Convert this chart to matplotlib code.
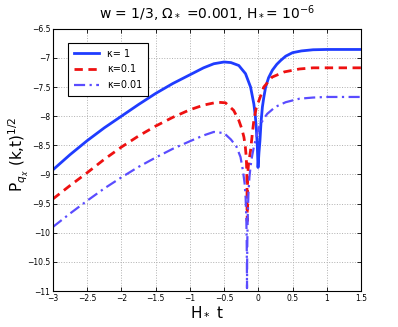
import matplotlib
matplotlib.use("Agg")
import matplotlib.pyplot as plt

# kappa = 1 (solid)
x_k1 = [-3.0, -2.75, -2.5, -2.25, -2.0, -1.75, -1.5, -1.25, -1.0, -0.8, -0.65, -0.5,
        -0.4, -0.285, -0.187, -0.113, -0.065, -0.045, -0.03, -0.015, -0.004,
        0.01, 0.024, 0.04, 0.06, 0.08, 0.107, 0.15, 0.206, 0.27, 0.33, 0.4, 0.5,
        0.63, 0.8, 1.0, 1.5]
y_k1 = [-8.92, -8.66, -8.42, -8.20, -8.00, -7.80, -7.61, -7.44, -7.29, -7.17, -7.10, -7.07,
        -7.08, -7.13, -7.27, -7.50, -7.79, -7.98, -8.19, -8.50, -8.88,
        -8.62, -8.42, -8.10, -7.84, -7.68, -7.50, -7.34, -7.21, -7.11, -7.04, -6.97, -6.91,
        -6.88, -6.86, -6.855, -6.855]

# kappa = 0.1 (dashed)
x_k01 = [-3.0, -2.75, -2.5, -2.25, -2.0, -1.75, -1.5, -1.25, -1.0, -0.8, -0.6, -0.48,
         -0.36, -0.285, -0.24, -0.21, -0.19, -0.176, -0.168, -0.164, -0.162,
         -0.16, -0.155, -0.145, -0.13, -0.113, -0.09, -0.065, -0.03, 0.01, 0.08,
         0.2, 0.38, 0.6, 0.8, 1.0, 1.5]
y_k01 = [-9.42, -9.19, -8.97, -8.74, -8.53, -8.34, -8.17, -8.02, -7.89, -7.81, -7.76, -7.77,
         -7.90, -8.07, -8.22, -8.36, -8.52, -8.70, -8.95, -9.30, -9.80,
         -9.30, -9.00, -8.85, -8.72, -8.59, -8.33, -8.07, -7.86, -7.73, -7.50,
         -7.33, -7.24, -7.19, -7.17, -7.17, -7.17]

# kappa = 0.01 (dash-dot)
x_k001 = [-3.0, -2.75, -2.5, -2.25, -2.0, -1.75, -1.5, -1.25, -1.0, -0.8, -0.65, -0.5,
          -0.4, -0.32, -0.26, -0.225, -0.2, -0.185, -0.175, -0.17, -0.167, -0.165,
          -0.163, -0.16, -0.155, -0.145, -0.13, -0.113, -0.09, -0.065, -0.03, 0.01,
          0.07, 0.13, 0.25, 0.4, 0.6, 0.8, 1.0, 1.5]
y_k001 = [-9.90, -9.67, -9.45, -9.24, -9.05, -8.87, -8.71, -8.56, -8.43, -8.33, -8.27, -8.29,
          -8.40, -8.52, -8.70, -8.93, -9.15, -9.40, -9.75, -10.1, -10.5, -10.95,
          -10.5, -10.1, -9.75, -9.35, -9.05, -8.86, -8.68, -8.53, -8.36, -8.19,
          -8.06, -7.96, -7.84, -7.76, -7.70, -7.68, -7.67, -7.67]

labels = ["κ= 1", "κ=0.1", "κ=0.01"]
xticks = [-3, -2.5, -2, -1.5, -1, -0.5, 0, 0.5, 1, 1.5]
xticklabels = ["−3", "−2.5", "−2", "−1.5", "−1", "−0.5", "0", "0.5", "1", "1.5"]
yticks = [-11, -10.5, -10, -9.5, -9, -8.5, -8, -7.5, -7, -6.5]
yticklabels = ["−11", "−10.5", "−10", "−9.5", "−9", "−8.5", "−8", "−7.5", "−7", "−6.5"]

fig = plt.figure(figsize=(3.98, 3.27), dpi=100)
ax = fig.add_axes([0.133, 0.110, 0.774, 0.802])

ax.plot(x_k1, y_k1, color="#1f3cff", lw=2.0, ls="-", label=labels[0])
ax.plot(x_k01, y_k01, color="#ee1111", lw=2.0, ls=(0, (3, 2)), label=labels[1])
ax.plot(x_k001, y_k001, color="#5a4cff", lw=1.6, ls=(0, (5, 2, 1, 2)), label=labels[2])

ax.set_xlim(-3, 1.5)
ax.set_ylim(-11, -6.5)
ax.set_xticks(xticks)
ax.set_xticklabels(xticklabels)
ax.set_yticks(yticks)
ax.set_yticklabels(yticklabels)
ax.tick_params(direction="in", labelsize=5.5, length=3, width=0.6, top=True, right=True, pad=2)
ax.grid(True, ls=":", color="#b0b0b0", lw=0.7)
for s in ax.spines.values():
    s.set_linewidth(0.8)

ax.set_title("w = 1/3, Ω$_*$ =0.001, H$_*$= 10$^{-6}$", fontsize=10, pad=7)
ax.set_xlabel("H$_*$ t", fontsize=11, labelpad=1)
ax.set_ylabel("P$_{q_\\chi}$ (k,t)$^{1/2}$", fontsize=11)
ax.yaxis.set_label_coords(-0.075, 0.52)

leg = ax.legend(loc="upper left", bbox_to_anchor=(0.05, 0.947), borderaxespad=0,
                fontsize=7, fancybox=False, edgecolor="black", framealpha=1,
                handlelength=2.6, borderpad=0.6, labelspacing=0.6)
leg.get_frame().set_linewidth(0.8)

fig.savefig("out.png", dpi=100)
